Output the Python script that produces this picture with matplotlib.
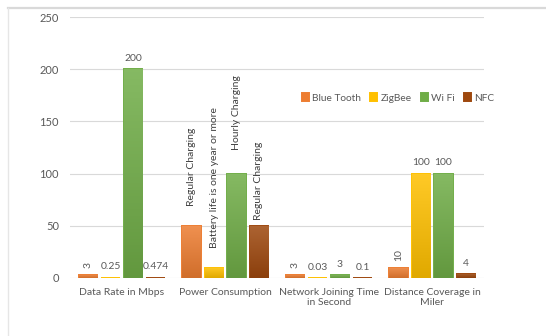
import numpy as np
import matplotlib
matplotlib.use('Agg')
import matplotlib.pyplot as plt
from matplotlib.colors import to_rgb
from matplotlib.lines import Line2D

categories = ['Data Rate in Mbps', 'Power Consumption', 'Network Joining Time\nin Second',
              'Distance Coverage in\nMiler']
series = ['Blue Tooth', 'ZigBee', 'Wi Fi', 'NFC']
bluetooth = [3, 50, 3, 10]
zigbee = [0.25, 10, 0.03, 100]
wifi = [200, 100, 3, 100]
nfc = [0.474, 50, 0.1, 4]
labels_bt = ['3', 'Regular Charging', '3', '10']
labels_zb = ['0.25', 'Battery life is one year or more', '0.03', '100']
labels_wf = ['200', 'Hourly Charging', '3', '100']
labels_nfc = ['0.474', 'Regular Charging', '0.1', '4']
yticks = [0, 50, 100, 150, 200, 250]

colors = ['#ED7D31', '#FFC000', '#70AD47', '#9E480E']
# offset (points) of the long rotated text labels, per series
long_offset = [14, 14, 17, 4]
plt.rcParams['font.family'] = ['Lato', 'DejaVu Sans']

fig = plt.figure(figsize=(5.46, 3.36), dpi=100)
ax = fig.add_axes([70 / 546, 58 / 336, 414 / 546, 261 / 336])

# excel chart-area border, cropped
fig.add_artist(Line2D([8 / 546, 1], [1 - 8 / 336] * 2, color='#D9D9D9', lw=1.6, transform=fig.transFigure))
fig.add_artist(Line2D([8 / 546] * 2, [0, 1 - 8 / 336], color='#E6E6E6', lw=1.0, transform=fig.transFigure))

x = np.arange(len(categories))
step = 0.217
width = 0.178
data = [bluetooth, zigbee, wifi, nfc]
texts = [labels_bt, labels_zb, labels_wf, labels_nfc]


def grad(c):
    r = np.array(to_rgb(c))
    top = r + (1 - r) * 0.15
    bot = r * 0.88
    t = np.linspace(0, 1, 64)[:, None]
    return (top * (1 - t) + bot * t)[:, None, :].repeat(2, axis=1)


for i, (vals, txt) in enumerate(zip(data, texts)):
    pos = x + (i - 1.5) * step
    bars = ax.bar(pos, vals, width, color=colors[i], edgecolor=colors[i], linewidth=1.4,
                  label=series[i], zorder=2)
    for b in bars:
        im = ax.imshow(grad(colors[i]), extent=[b.get_x(), b.get_x() + b.get_width(), 0, b.get_height()],
                       aspect='auto', zorder=2.5, origin='upper')
        im.set_clip_path(b)
    for p, v, t in zip(pos, vals, txt):
        if len(t) > 6:
            ax.annotate(t, (p, v), xytext=(0, long_offset[i]), textcoords='offset points',
                        rotation=90, ha='center', va='bottom', fontsize=7.5, color='#404040')
        elif i == 0:
            ax.annotate(t, (p, v), xytext=(0, 5), textcoords='offset points',
                        rotation=90, ha='center', va='bottom', fontsize=7.5, color='#595959')
        else:
            ax.annotate(t, (p, v), xytext=(0, 4.5), textcoords='offset points',
                        ha='center', va='bottom', fontsize=7.5, color='#595959')

ax.set_xlim(-0.5, 3.5)
ax.set_ylim(0, 250)
ax.set_yticks(yticks)
ax.set_xticks(x)
ax.set_xticklabels(categories, fontsize=7.5, color='#595959')
ax.tick_params(axis='y', labelsize=8, labelcolor='#595959', length=0, pad=8)
ax.tick_params(axis='x', length=0, pad=7)
ax.grid(axis='y', color='#D9D9D9', lw=0.8, zorder=0)
ax.set_axisbelow(True)
for s in ax.spines.values():
    s.set_visible(False)

ax.legend(loc='center', bbox_to_anchor=(398 / 546, 1 - 98 / 336), bbox_transform=fig.transFigure,
          ncol=4, frameon=False, fontsize=7.3, handlelength=0.7, handleheight=0.7,
          handletextpad=0.3, columnspacing=0.9, labelcolor='#595959')

fig.savefig('out.png', dpi=100)
